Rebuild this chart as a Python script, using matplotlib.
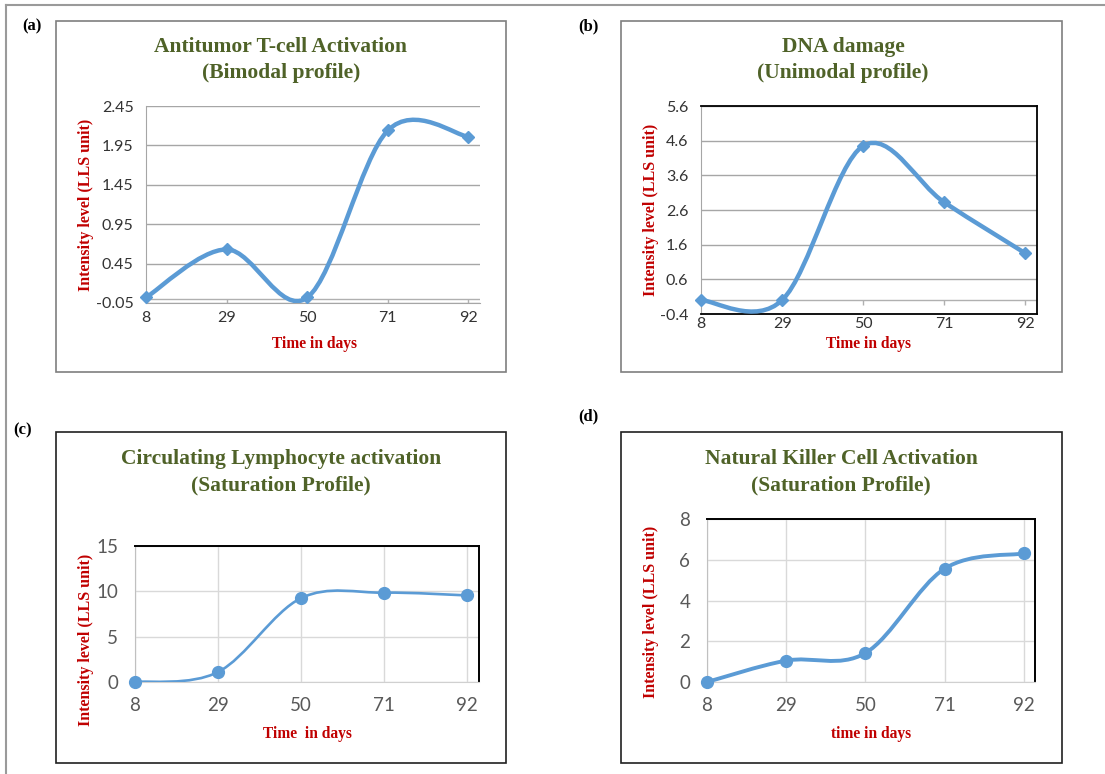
import matplotlib.pyplot as plt
from matplotlib.path import Path
from matplotlib.patches import PathPatch, Rectangle

days = [8, 29, 50, 71, 92]

# intensity level (LLS unit) per panel
tcell = [0.02, 0.63, 0.02, 2.14, 2.06]
dna = [0.0, 0.0, 4.45, 2.82, 1.35]
lymph = [0.0, 1.1, 9.25, 9.85, 9.55]
nk = [0.0, 1.05, 1.42, 5.56, 6.31]

tcell_ticks = [-0.05, 0.45, 0.95, 1.45, 1.95, 2.45]
dna_ticks = [-0.4, 0.6, 1.6, 2.6, 3.6, 4.6, 5.6]
lymph_ticks = [0, 5, 10, 15]
nk_ticks = [0, 2, 4, 6, 8]

titles = ["Antitumor T-cell Activation\n(Bimodal profile)",
          "DNA damage\n(Unimodal profile)",
          "Circulating Lymphocyte activation\n(Saturation Profile)",
          "Natural Killer Cell Activation\n(Saturation Profile)"]
xlabels = ["Time in days", "Time in days", "Time  in days", "time in days"]
ylabel = "Intensity level (LLS unit)"
panel_tags = ["(a)", "(b)", "(c)", "(d)"]

BLUE = "#5B9BD5"
GREEN = "#4F6228"
RED = "#C00000"
W, H = 1105, 774


def smooth_path(x, y):
    # Excel-style smoothed line: cubic Bezier segments through the points
    verts = [(x[0], y[0])]
    codes = [Path.MOVETO]
    n = len(x)
    for i in range(n - 1):
        i0 = max(i - 1, 0)
        i3 = min(i + 2, n - 1)
        c1 = (x[i] + (x[i + 1] - x[i0]) / 6, y[i] + (y[i + 1] - y[i0]) / 6)
        c2 = (x[i + 1] - (x[i3] - x[i]) / 6, y[i + 1] - (y[i3] - y[i]) / 6)
        verts += [c1, c2, (x[i + 1], y[i + 1])]
        codes += [Path.CURVE4] * 3
    return Path(verts, codes)


def fig_rect(l, t, r, b):
    return [l / W, 1 - b / H, (r - l) / W, (b - t) / H]


fig = plt.figure(figsize=(W / 100, H / 100), dpi=100)

# outer frame (top and left only)
fig.add_artist(plt.Line2D([6 / W, 1], [1 - 5 / H, 1 - 5 / H], color="#9a9a9a", lw=1.5))
fig.add_artist(plt.Line2D([6 / W, 6 / W], [0, 1 - 5 / H], color="#9a9a9a", lw=1.5))

# chart boxes
boxes = [(56, 21, 506, 372, "#7f7f7f"), (621, 21, 1062, 372, "#7f7f7f"),
         (56, 432, 506, 763, "#202020"), (621, 432, 1062, 763, "#202020")]
for l, t, r, b, c in boxes:
    fig.add_artist(Rectangle((l / W, 1 - b / H), (r - l) / W, (b - t) / H,
                             transform=fig.transFigure, fill=False, ec=c, lw=1.2))

axes_pos = [(146, 106, 480, 303), (701, 106, 1037, 314),
            (135, 546, 479, 682), (707, 519, 1035, 682)]
series = [tcell, dna, lymph, nk]
yticks = [tcell_ticks, dna_ticks, lymph_ticks, nk_ticks]
title_xy = [(281, 60), (843, 60), (281, 472), (841, 472)]
xlabel_xy = [(314, 344), (869, 344), (307, 734), (871, 734)]
ylabel_xy = [(86, 205), (651, 210), (86, 640), (651, 612)]
tag_xy = [(32, 26), (588, 26), (23, 430), (588, 416)]

for k in range(4):
    ax = fig.add_axes(fig_rect(*axes_pos[k]))
    vals = series[k]
    ax.set_xlim(8, 95)
    ax.set_ylim(yticks[k][0], yticks[k][-1])
    ax.set_yticks(yticks[k])
    ax.set_xticks(days)
    if k == 0:
        ax.set_yticklabels(["%.2f" % v for v in yticks[k]])
    elif k == 1:
        ax.set_yticklabels(["%.1f" % v for v in yticks[k]])
    ax.set_axisbelow(True)

    if k < 2:
        ax.grid(axis="y", color="#a6a6a6", lw=1.0)
        tick_col, fs = "#333333", 11.5
        # horizontal axis crossing at zero with small tick marks
        ax.axhline(0, color="#b0b0b0", lw=1.0, zorder=1)
        span = yticks[k][-1] - yticks[k][0]
        ax.vlines(days[1:], -0.025 * span, 0, color="#b0b0b0", lw=1.0, zorder=1)
        ax.spines["left"].set_color("#a6a6a6")
        if k == 0:
            ax.spines["bottom"].set_color("#a6a6a6")
            ax.spines["top"].set_visible(False)
            ax.spines["right"].set_visible(False)
        else:
            for s in ["top", "right", "bottom"]:
                ax.spines[s].set_color("black")
                ax.spines[s].set_linewidth(1.3)
        ax.tick_params(axis="y", length=0, pad=9, labelsize=fs, labelcolor=tick_col)
        ax.tick_params(axis="x", length=0, pad=6 if k == 0 else 2,
                       labelsize=fs, labelcolor=tick_col)
        ax.add_patch(PathPatch(smooth_path(days, vals), fill=False,
                               ec=BLUE, lw=3.2, capstyle="round", zorder=3))
        ax.plot(days, vals, ls="none", marker="D", ms=6.5, color=BLUE,
                zorder=4, clip_on=False)
    else:
        ax.grid(axis="both", color="#d9d9d9", lw=1.0)
        tick_col, fs = "#595959", 13.5
        ax.spines["left"].set_color("#c0c0c0")
        ax.spines["bottom"].set_color("#d0d0d0")
        for s in ["top", "right"]:
            ax.spines[s].set_color("black")
            ax.spines[s].set_linewidth(1.4)
        ax.tick_params(axis="y", length=0, pad=12, labelsize=fs, labelcolor=tick_col)
        ax.tick_params(axis="x", length=0, pad=11, labelsize=fs, labelcolor=tick_col)
        ax.add_patch(PathPatch(smooth_path(days, vals), fill=False,
                               ec=BLUE, lw=1.9 if k == 2 else 2.8,
                               capstyle="round", zorder=3))
        ax.plot(days, vals, ls="none", marker="o", ms=8.5, color=BLUE,
                zorder=4, clip_on=False)

    for lab in ax.get_xticklabels() + ax.get_yticklabels():
        lab.set_family("Lato")

    tx, ty = title_xy[k]
    fig.text(tx / W, 1 - ty / H, titles[k], ha="center", va="center",
             family="Liberation Serif", weight="bold", size=15.5, color=GREEN,
             linespacing=1.4)
    lx, ly = xlabel_xy[k]
    fig.text(lx / W, 1 - ly / H, xlabels[k], ha="center", va="center",
             family="Liberation Serif", weight="bold", size=11.2, color=RED)
    yx, yy = ylabel_xy[k]
    fig.text(yx / W, 1 - yy / H, ylabel, ha="center", va="center", rotation=90,
             family="Liberation Serif", weight="bold", size=11.5, color=RED)
    gx, gy = tag_xy[k]
    fig.text(gx / W, 1 - gy / H, panel_tags[k], ha="center", va="center",
             family="Liberation Serif", weight="bold", size=12, color="black")

fig.savefig("out.png", dpi=100)
